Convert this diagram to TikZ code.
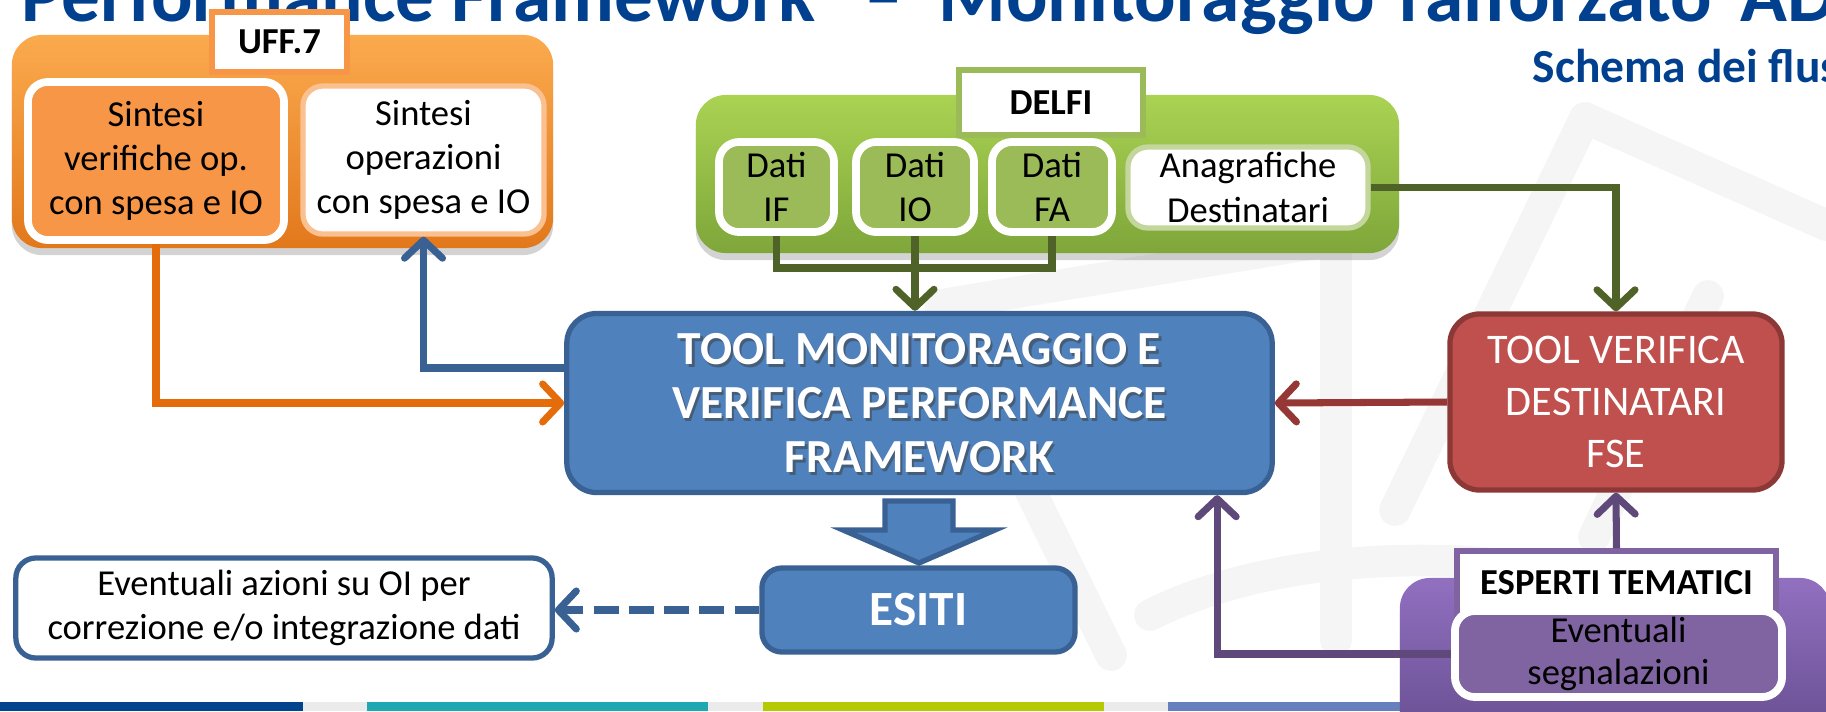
\documentclass[tikz,border=0pt]{standalone}
\usepackage{fontspec}
\setmainfont{Carlito}
\usetikzlibrary{arrows.meta,shadows}

\definecolor{orTop}{HTML}{FBAA4E}
\definecolor{orBot}{HTML}{E2781C}
\definecolor{orIn}{HTML}{F79646}
\definecolor{orLine}{HTML}{E46C0A}
\definecolor{grTop}{HTML}{AAD353}
\definecolor{grBot}{HTML}{7EA63A}
\definecolor{grIn}{HTML}{9BBB59}
\definecolor{grLine}{HTML}{4F6228}
\definecolor{blFill}{HTML}{4F81BD}
\definecolor{blLine}{HTML}{3A6193}
\definecolor{rdFill}{HTML}{C0504D}
\definecolor{rdLine}{HTML}{8C3836}
\definecolor{rdArr}{HTML}{953735}
\definecolor{puTop}{HTML}{9170C0}
\definecolor{puBot}{HTML}{654C8E}
\definecolor{puIn}{HTML}{8064A2}
\definecolor{puLine}{HTML}{5F497A}
\definecolor{ttlBlue}{HTML}{00408F}
\definecolor{barA}{HTML}{00448E}
\definecolor{barB}{HTML}{1FA8B2}
\definecolor{barC}{HTML}{B6CA00}
\definecolor{barD}{HTML}{6580BC}
\definecolor{barGap}{HTML}{EBEBEB}

\tikzset{
  grp/.style={rounded corners=0.3cm, draw=none,
    drop shadow={shadow xshift=0pt,shadow yshift=-0.7mm,opacity=0.35}},
  tag/.style={draw, line width=1.5pt, fill=white, inner sep=0pt,
    font=\fontsize{10.4}{12.6}\selectfont\bfseries},
  cell/.style={rounded corners=0.2cm, line width=2.2pt, draw=white, align=center,
    inner sep=0pt, font=\fontsize{10.4}{12.6}\selectfont},
  box/.style={rounded corners=0.3cm, line width=1.5pt, align=center, inner sep=0pt},
  tooltxt/.style={align=center, inner sep=0pt, font=\fontsize{13.5}{15.4}\selectfont\bfseries},
  conn/.style={line width=2pt, -{Straight Barb[length=1.8mm,width=3.8mm,round]}},
  wm/.style={line width=9pt, line cap=round, black!4},
}

\begin{document}
\begin{tikzpicture}[x=0.01cm, y=-0.01cm]
\useasboundingbox (0,0) rectangle (1826,711);
\clip (0,0) rectangle (1826,711);

% watermark in the background
\draw[wm] (940,305) -- (1335,240);
\draw[wm] (1336,240) -- (1336,640);
\draw[wm] (1030,490) -- (1111,655);
\draw[wm] (1150,615) .. controls (1250,565) and (1380,555) .. (1485,563);
\draw[wm] (1585,118) -- (1826,225);
\draw[wm] (1585,118) -- (1395,510);
\draw[wm] (1708,296) -- (1594,537);

% bottom bar
\fill[barA] (0,702) rectangle (303,711);
\fill[barGap] (303,702) rectangle (367,711);
\fill[barB] (367,702) rectangle (708,711);
\fill[barGap] (708,702) rectangle (763,711);
\fill[barC] (763,702) rectangle (1104,711);
\fill[barGap] (1104,702) rectangle (1168,711);
\fill[barD] (1168,702) rectangle (1826,711);

% titles
\node[anchor=base west, inner sep=0pt, text=ttlBlue, font=\fontsize{22}{26}\selectfont\bfseries]
  (ttl) at (21,21) {Performance Framework\hspace{9pt} –\hspace{5pt} Monitoraggio\hspace{2pt} rafforzato\hspace{3pt} AD};
\node[anchor=base west, inner sep=0pt, text=ttlBlue, font=\fontsize{13.5}{16}\selectfont\bfseries]
  (sub) at (1532,82) {Schema dei flus};

% UFF.7
\node[grp, top color=orTop, bottom color=orBot, minimum width=5.41cm, minimum height=2.13cm] (uff) at (282.5,141.5) {};
\node[tag, draw=orIn, minimum width=1.35cm, minimum height=0.6cm] (uffl) at (279.5,42) {UFF.7};
\node[cell, fill=orIn, minimum width=2.56cm, minimum height=1.58cm] (uffa) at (156,161) {Sintesi\\verifiche op.\\con spesa e IO};
\node[cell, fill=white, draw=orIn!60!white, line width=1.5pt, minimum width=2.41cm, minimum height=1.48cm] (uffb) at (423.5,160) {Sintesi\\operazioni\\con spesa e IO};

% DELFI
\node[grp, top color=grTop, bottom color=grBot, minimum width=7.03cm, minimum height=1.58cm] (delfi) at (1047.5,174) {};
\node[tag, draw=grIn, minimum width=1.84cm, minimum height=0.65cm] (delfil) at (1051,102.5) {DELFI};
\node[cell, fill=grIn, minimum width=1.15cm, minimum height=0.9cm] (dif) at (776.5,187) {Dati\\IF};
\node[cell, fill=grIn, minimum width=1.18cm, minimum height=0.9cm] (dio) at (915,187) {Dati\\IO};
\node[cell, fill=grIn, minimum width=1.2cm, minimum height=0.9cm] (dfa) at (1052,187) {Dati\\FA};
\node[cell, fill=white, draw=grIn!60!white, line width=1.5pt, minimum width=2.4cm, minimum height=0.81cm] (ana) at (1248,187.5) {Anagrafiche\\Destinatari};

% central tool
\node[box, fill=blFill, draw=blLine, minimum width=7.05cm, minimum height=1.79cm] (tool) at (919.5,403) {};
\node[tooltxt, text=black!75, opacity=0.55] (toolsh) at ([shift={(0.6pt,-0.8pt)}]tool.center) {TOOL MONITORAGGIO E\\VERIFICA PERFORMANCE\\FRAMEWORK};
\node[tooltxt, text=white] (tooltx) at (tool.center) {TOOL MONITORAGGIO E\\VERIFICA PERFORMANCE\\FRAMEWORK};

\node[box, fill=rdFill, draw=rdLine, text=white, font=\fontsize{12}{14.7}\selectfont,
  minimum width=3.32cm, minimum height=1.76cm] (ver) at (1616,402) {TOOL VERIFICA\\DESTINATARI\\FSE};

\draw[fill=blFill, draw=blLine, line width=1.5pt] (885,501) -- (953,501) -- (953,530) -- (995,530)
  -- (919,563) -- (843,530) -- (885,530) -- cycle;

\node[box, rounded corners=0.2cm, fill=blFill, draw=blLine, text=white, font=\fontsize{14}{16}\selectfont\bfseries,
  minimum width=3.13cm, minimum height=0.84cm] (esiti) at (918.5,610) {ESITI};
\node[box, rounded corners=0.2cm, fill=white, draw=blLine, font=\fontsize{10.4}{12.4}\selectfont,
  minimum width=5.36cm, minimum height=1cm] (azioni) at (284,608) {Eventuali azioni su OI per\\correzione e/o integrazione dati};

% ESPERTI TEMATICI
\node[grp, top color=puTop, bottom color=puBot, minimum width=4.3cm, minimum height=1.7cm] (espg) at (1615,663) {};
\node[tag, draw=puIn, minimum width=3.19cm, minimum height=0.64cm] (esp) at (1616.5,583) {ESPERTI TEMATICI};
\node[cell, fill=puIn, minimum width=3.27cm, minimum height=0.86cm, font=\fontsize{10.4}{12}\selectfont] (seg) at (1618.5,654) {Eventuali\\segnalazioni};

% connectors
\coordinate (jn) at (915,268);
\draw[conn, orLine] (uffa.south) |- (tool.west);
\draw[conn, blLine] ([yshift=0.35cm]tool.west) -| (uffb.south);
\draw[line width=2pt, grLine] (dif.south) |- (jn) -| (dfa.south);
\draw[conn, grLine] (dio.south) -- (dio.south |- tool.north);
\draw[conn, grLine] (ana.east) -| (ver.north);
\draw[conn, rdArr] (ver.west) -- (tool.east);
\draw[conn, puLine] (seg.west) -| ([xshift=2.975cm]tool.south);
\draw[conn, puLine] (esp.north) -- (ver.south);
\draw[conn, blLine, dash pattern=on 7pt off 3pt] (esiti.west) -- (esiti.west -| azioni.east);

\end{tikzpicture}
\end{document}
